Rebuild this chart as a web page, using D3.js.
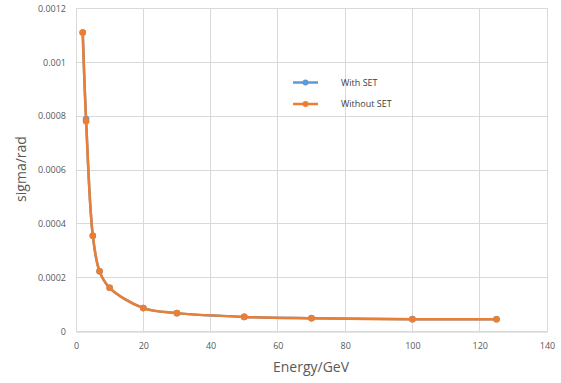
<!DOCTYPE html>
<html>
<head>
<meta charset="utf-8">
<script src="https://cdn.jsdelivr.net/npm/d3@7"></script>
<style>
  html, body { margin: 0; padding: 0; background: #fff; }
  svg { display: block; }
</style>
</head>
<body>
<svg id="chart" width="561" height="383"></svg>
<script>
// Beam energy points (GeV)
const energies = [2, 3, 5, 7, 10, 20, 30, 50, 70, 100, 125];
// Angular resolution sigma (rad) for each configuration
const withSET    = [0.00111, 0.000789, 0.000356, 0.000224, 0.000163, 0.0000876, 0.0000689, 0.000055, 0.0000502, 0.0000466, 0.0000462];
const withoutSET = [0.00111, 0.000781, 0.000356, 0.000224, 0.000163, 0.0000876, 0.0000689, 0.000055, 0.0000500, 0.0000464, 0.0000462];
const seriesNames = ["With SET", "Without SET"];
const seriesColors = ["#5B9BD5", "#ED7D31"];
const xTicks = [0, 20, 40, 60, 80, 100, 120, 140];
const yTicks = [0, 0.0002, 0.0004, 0.0006, 0.0008, 0.001, 0.0012];
const yTickLabels = ["0", "0.0002", "0.0004", "0.0006", "0.0008", "0.001", "0.0012"];

const svg = d3.select("#chart");
const font = "'Open Sans', 'Liberation Sans', sans-serif";
const plot = { left: 76, right: 547, top: 8.3, bottom: 331.7 };

const x = d3.scaleLinear().domain([0, 140]).range([plot.left, plot.right]);
const y = d3.scaleLinear().domain([0, 0.0012]).range([plot.bottom, plot.top]);

// Gridlines
svg.append("g")
  .selectAll("line.h")
  .data(yTicks)
  .join("line")
  .attr("x1", plot.left).attr("x2", plot.right)
  .attr("y1", d => y(d)).attr("y2", d => y(d))
  .attr("stroke", "#d9d9d9").attr("stroke-width", 1)
  .attr("shape-rendering", "crispEdges");

svg.append("g")
  .selectAll("line.v")
  .data(xTicks)
  .join("line")
  .attr("x1", d => x(d)).attr("x2", d => x(d))
  .attr("y1", plot.top).attr("y2", plot.bottom)
  .attr("stroke", "#d9d9d9").attr("stroke-width", 1)
  .attr("shape-rendering", "crispEdges");

// Axes (labels only; lines drawn by the grid)
const xAxis = d3.axisBottom(x).tickValues(xTicks).tickSize(0).tickPadding(11).tickFormat(d3.format("d"));
const gx = svg.append("g").attr("transform", `translate(0,${plot.bottom})`).call(xAxis);
gx.select(".domain").attr("stroke", "#d9d9d9");
gx.selectAll("text").attr("fill", "#595959").style("font-family", font).style("font-size", "9px");

const yAxis = d3.axisLeft(y).tickValues(yTicks).tickSize(0).tickPadding(10)
  .tickFormat((d, i) => yTickLabels[i]);
const gy = svg.append("g").attr("transform", `translate(${plot.left},0)`).call(yAxis);
gy.select(".domain").remove();
gy.selectAll("text").attr("fill", "#595959").style("font-family", font).style("font-size", "9px");

// Axis titles
svg.append("text")
  .attr("x", 311).attr("y", 372)
  .attr("text-anchor", "middle")
  .attr("fill", "#595959")
  .style("font-family", font).style("font-size", "14px")
  .text("Energy/GeV");

svg.append("text")
  .attr("transform", "translate(26,169) rotate(-90)")
  .attr("text-anchor", "middle")
  .attr("fill", "#595959")
  .style("font-family", font).style("font-size", "14px")
  .text("sigma/rad");

// Series
const line = d3.line()
  .x(d => x(d[0]))
  .y(d => y(d[1]))
  .curve(d3.curveCatmullRom.alpha(0.5));

[withSET, withoutSET].forEach((vals, i) => {
  const pts = energies.map((e, j) => [e, vals[j]]);
  const g = svg.append("g");
  g.append("path")
    .attr("d", line(pts))
    .attr("fill", "none")
    .attr("stroke", seriesColors[i])
    .attr("stroke-width", 2.5)
    .attr("stroke-linejoin", "round")
    .attr("stroke-linecap", "round");
  g.selectAll("circle")
    .data(pts)
    .join("circle")
    .attr("cx", d => x(d[0]))
    .attr("cy", d => y(d[1]))
    .attr("r", 3.3)
    .attr("fill", seriesColors[i]);
});

// Legend
const legend = svg.append("g");
seriesNames.forEach((name, i) => {
  const ly = 82.5 + i * 21.5;
  legend.append("line")
    .attr("x1", 293).attr("x2", 318)
    .attr("y1", ly).attr("y2", ly)
    .attr("stroke", seriesColors[i]).attr("stroke-width", 2.5);
  legend.append("circle")
    .attr("cx", 305.5).attr("cy", ly).attr("r", 3)
    .attr("fill", seriesColors[i]);
  legend.append("text")
    .attr("x", 341).attr("y", ly)
    .attr("dy", "0.35em")
    .attr("fill", "#404040")
    .style("font-family", font).style("font-size", "9px")
    .text(name);
});
</script>
</body>
</html>
